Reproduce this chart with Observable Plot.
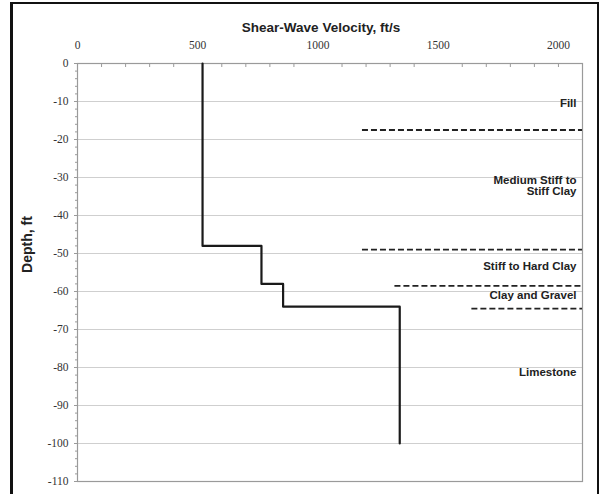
<!DOCTYPE html>
<html>
<head>
<meta charset="utf-8">
<script src="https://cdn.jsdelivr.net/npm/d3@7"></script>
<script src="https://cdn.jsdelivr.net/npm/@observablehq/plot@0.6"></script>
<style>
  html, body { margin: 0; padding: 0; background: white; }
  #wrap { position: relative; width: 600px; height: 494px; overflow: hidden; }
  #border { position: absolute; left: 10px; top: 2px; width: 584px; height: 600px;
            border-left: 3px solid #111; border-top: 2px solid #111; border-right: 2px solid #111; pointer-events: none; }
</style>
</head>
<body>
<div id="wrap"><div id="border"></div></div>
<script>
// ---- data ----
const velocityTicks = [0, 500, 1000, 1500, 2000];
const velocityMinorTicks = [100,200,300,400,600,700,800,900,1100,1200,1300,1400,1600,1700,1800,1900,2000];
const depthTicks = [0, -10, -20, -30, -40, -50, -60, -70, -80, -90, -100, -110];
const depthMinorTicks = [-2,-4,-6,-8,-12,-14,-16,-18,-22,-24,-26,-28,-32,-34,-36,-38,-42,-44,-46,-48,-52,-54,-56,-58,-62,-64,-66,-68,-72,-74,-76,-78,-82,-84,-86,-88,-92,-94,-96,-98,-102,-104,-106,-108];

// velocity profile layers
const layerVelocity = [520, 765, 855, 1340];
const layerTop      = [0, -48, -58, -64];
const layerBottom   = [-48, -58, -64, -100];

// soil boundaries (dashed)
const boundaryDepth = [-17.5, -49, -58.5, -64.5];
const boundaryStart = [1185, 1185, 1320, 1640];

// soil labels
const soilNames  = ["Fill", "Medium Stiff to\nStiff Clay", "Stiff to Hard Clay", "Clay and Gravel", "Limestone"];
const soilDepths = [-10.5, -32.2, -53.4, -61, -81.3];

const xMax = 2100;

// ---- derived tables ----
const profile = [];
layerVelocity.forEach((v, i) => {
  profile.push({v, d: layerTop[i]});
  profile.push({v, d: layerBottom[i]});
});
const boundaries = boundaryDepth.map((d, i) => ({d, x1: boundaryStart[i], x2: xMax}));
const soils = soilNames.map((name, i) => ({name, d: soilDepths[i]}));

const sans = "'Liberation Sans', Arial, Helvetica, sans-serif";
const fmt = d => String(d);

const chart = Plot.plot({
  width: 600,
  height: 494,
  marginLeft: 77,
  marginRight: 18,
  marginTop: 63,
  marginBottom: 13,
  style: {fontFamily: "'Liberation Serif', 'Times New Roman', serif", fontSize: "11px", color: "#333", background: "transparent", overflow: "visible"},
  x: {domain: [0, xMax], axis: null},
  y: {domain: [-110, 0], axis: null},
  marks: [
    Plot.ruleY(depthTicks, {stroke: "#cfcfcf", strokeWidth: 1.2}),
    Plot.frame({stroke: "#9a9a9a", strokeWidth: 1.2}),
    Plot.axisX(velocityMinorTicks, {anchor: "top", tickSize: -3, text: null, label: null, stroke: "#9a9a9a"}),
    Plot.axisX(velocityTicks, {anchor: "top", tickSize: 0, tickPadding: 15, label: null, tickFormat: fmt, fill: "#333", fontSize: 11.5}),
    Plot.axisY(depthMinorTicks, {anchor: "left", tickSize: 2, text: null, label: null, stroke: "#9a9a9a"}),
    Plot.axisY(depthTicks, {anchor: "left", tickSize: 3, tickPadding: 6, label: null, tickFormat: fmt, stroke: "#9a9a9a", fill: "#333", fontSize: 11.5}),
    Plot.ruleY(boundaries, {y: "d", x1: "x1", x2: "x2", stroke: "#222", strokeWidth: 1.8, strokeDasharray: "6,3"}),
    Plot.line(profile, {x: "v", y: "d", stroke: "#1a1a1a", strokeWidth: 2.2}),
    Plot.text(soils, {y: "d", text: "name", frameAnchor: "right", textAnchor: "end", dx: -6, lineAnchor: "middle",
      fontFamily: sans, fontWeight: "bold", fontSize: 11.5, fill: "#222", lineHeight: 1.0}),
    Plot.text(["Shear-Wave Velocity, ft/s"], {frameAnchor: "top", dy: -36, dx: -9, lineAnchor: "middle",
      fontFamily: sans, fontWeight: "bold", fontSize: 13.5, fill: "#222"}),
    Plot.text(["Depth, ft"], {frameAnchor: "left", dx: -50, dy: -28, rotate: -90, lineAnchor: "middle", textAnchor: "middle",
      fontFamily: sans, fontWeight: "bold", fontSize: 14, fill: "#222"})
  ]
});
document.getElementById("wrap").prepend(chart);
</script>
</body>
</html>
